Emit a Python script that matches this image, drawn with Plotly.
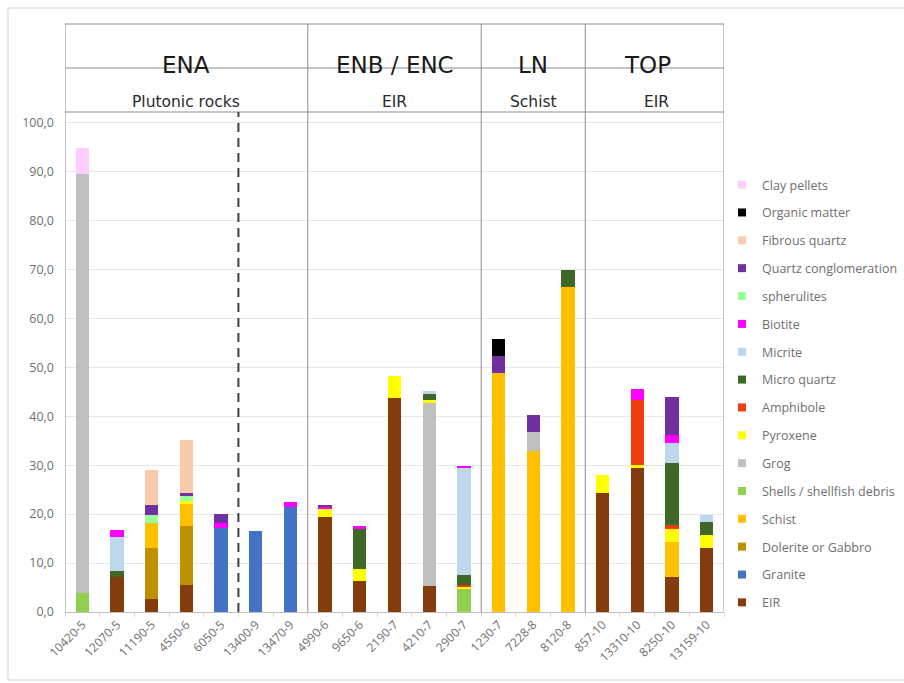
import plotly.graph_objects as go

# Samples grouped by site (ENA | ENB/ENC | LN | TOP)
samples = ["10420-5", "12070-5", "11190-5", "4550-6", "6050-5", "13400-9", "13470-9",
           "4990-6", "9650-6", "2190-7", "4210-7", "2900-7",
           "1230-7", "7228-8", "8120-8",
           "857-10", "13310-10", "8250-10", "13159-10"]

# Inclusion percentages per sample (stacked bottom -> top)
eir          = [0, 7.2, 2.6, 5.5, 0, 0, 0, 19.5, 6.3, 43.7, 5.3, 0, 0, 0, 0, 24.4, 29.4, 7.2, 13.1]
granite      = [0, 0, 0, 0, 17.2, 16.5, 21.4, 0, 0, 0, 0, 0, 0, 0, 0, 0, 0, 0, 0]
dolerite     = [0, 0, 10.4, 12.1, 0, 0, 0, 0, 0, 0, 0, 0, 0, 0, 0, 0, 0, 0, 0]
schist       = [0, 0, 5.1, 4.6, 0, 0, 0, 0, 0, 0, 0, 0, 48.9, 32.8, 66.3, 0, 0, 7.1, 0]
shells       = [3.9, 0, 0, 0, 0, 0, 0, 0, 0, 0, 0, 4.8, 0, 0, 0, 0, 0, 0, 0]
grog         = [85.5, 0, 0, 0, 0, 0, 0, 0, 0, 0, 37.4, 0, 0, 3.9, 0, 0, 0, 0, 0]
pyroxene     = [0, 0, 0, 0.4, 0, 0, 0, 1.5, 2.4, 4.6, 0.6, 0.3, 0, 0, 0, 3.6, 0.6, 2.6, 2.7]
amphibole    = [0, 0, 0, 0, 0, 0, 0, 0, 0, 0, 0, 0.5, 0, 0, 0, 0, 13.3, 0.8, 0]
micro_quartz = [0, 1.1, 0, 0, 0, 0, 0, 0, 8.2, 0, 1.3, 2.0, 0, 0, 3.5, 0, 0, 12.8, 2.6]
micrite      = [0, 7.1, 0, 0, 0, 0, 0, 0, 0, 0, 0.6, 21.9, 0, 0, 0, 0, 0, 4.0, 1.4]
biotite      = [0, 1.3, 0, 0, 1.0, 0, 1.1, 0.5, 0.7, 0, 0, 0.4, 0, 0, 0, 0, 2.2, 1.7, 0]
spherulites  = [0, 0, 1.8, 1.0, 0, 0, 0, 0, 0, 0, 0, 0, 0, 0, 0, 0, 0, 0, 0]
quartz_cong  = [0, 0, 1.9, 0.8, 1.9, 0, 0, 0.3, 0, 0, 0, 0, 3.5, 3.6, 0, 0, 0, 7.8, 0]
fibrous      = [0, 0, 7.2, 10.8, 0, 0, 0, 0, 0, 0, 0, 0, 0, 0, 0, 0, 0, 0, 0]
organic      = [0, 0, 0, 0, 0, 0, 0, 0, 0, 0, 0, 0, 3.4, 0, 0, 0, 0, 0, 0]
clay_pellets = [5.3, 0, 0, 0, 0, 0, 0, 0, 0, 0, 0, 0, 0, 0, 0, 0, 0, 0, 0]

series = [
    ("EIR", eir, "#843c0c"),
    ("Granite", granite, "#4472c4"),
    ("Dolerite or Gabbro", dolerite, "#bf9000"),
    ("Schist", schist, "#ffc000"),
    ("Shells / shellfish debris", shells, "#92d050"),
    ("Grog", grog, "#bfbfbf"),
    ("Pyroxene", pyroxene, "#ffff00"),
    ("Amphibole", amphibole, "#ee3d10"),
    ("Micro quartz", micro_quartz, "#3d6826"),
    ("Micrite", micrite, "#bdd7ee"),
    ("Biotite", biotite, "#ff00ff"),
    ("spherulites", spherulites, "#99ff99"),
    ("Quartz conglomeration", quartz_cong, "#7030a0"),
    ("Fibrous quartz", fibrous, "#f8cbad"),
    ("Organic matter", organic, "#000000"),
    ("Clay pellets", clay_pellets, "#ffccff"),
]

# Site header table: (label, sub label, first index, last index, label centre, sub centre)
sites = [("ENA", "Plutonic rocks", 0, 6, 3.0, 3.0),
         ("ENB / ENC", "EIR", 7, 11, 9.0, 9.0),
         ("LN", "Schist", 12, 14, 13.0, 13.0),
         ("TOP", "EIR", 15, 18, 16.3, 16.55)]

W, H = 904, 683
L, R, T, B = 65, 180, 112, 71
plot_w, plot_h = W - L - R, H - T - B


def px_x(p):
    return (p - L) / plot_w


def px_y(p):
    return (H - B - p) / plot_h


TXT = "#6f6f6f"
FONT = "Open Sans"

fig = go.Figure()
n = len(series)
for i, (name, vals, col) in enumerate(series):
    fig.add_trace(go.Bar(x=samples, y=vals, name=name, marker=dict(color=col, line=dict(width=0)),
                         showlegend=False, legendgroup=name, hoverinfo="x+y+name"))
    # compact square legend key, listed top-down in reverse stacking order
    fig.add_trace(go.Scatter(x=[None], y=[None], mode="markers", name=name, legendgroup=name,
                             legendrank=n - i, marker=dict(symbol="square", size=8, color=col),
                             showlegend=True))

table_top = px_y(24)
row_div = px_y(68)
line_col = "#8c8c8c"

shapes = []
# horizontal table rules
for yv in (table_top, row_div, 1.0):
    shapes.append(dict(type="line", xref="paper", yref="paper", x0=0, x1=1, y0=yv, y1=yv,
                       line=dict(color=line_col, width=1)))
# outer borders and site separators
for xv in [-0.5] + [s[3] + 0.5 for s in sites]:
    shapes.append(dict(type="line", xref="x", yref="paper", x0=xv, x1=xv, y0=0, y1=table_top,
                       line=dict(color=line_col, width=1)))
# dashed split inside ENA
shapes.append(dict(type="line", xref="x", yref="paper", x0=4.5, x1=4.5, y0=0, y1=1,
                   line=dict(color="#404040", width=2, dash="9px,6px")))
# light frame around the figure
shapes.append(dict(type="rect", xref="paper", yref="paper", x0=px_x(8), x1=px_x(906),
                   y0=px_y(680), y1=px_y(8), line=dict(color="#d0d0d0", width=1)))

annotations = []
for label, sub, i0, i1, xc, xs in sites:
    annotations.append(dict(x=xc, y=px_y(50), xref="x", yref="paper", text=label, showarrow=False,
                            font=dict(family="DejaVu Sans", size=23, color="#1a1a1a")))
    annotations.append(dict(x=xs, y=px_y(91), xref="x", yref="paper", text=sub, showarrow=False,
                            font=dict(family="DejaVu Sans", size=15.5, color="#2a2a2a")))

fig.update_layout(
    width=W, height=H,
    margin=dict(l=L, r=R, t=T, b=B, pad=0, autoexpand=False),
    barmode="stack", bargap=0.615,
    plot_bgcolor="white", paper_bgcolor="white",
    separators=", ",
    font=dict(family=FONT, color=TXT, size=12),
    shapes=shapes, annotations=annotations,
    legend=dict(x=px_x(722), xanchor="left", y=px_y(170), yanchor="top",
                bgcolor="rgba(0,0,0,0)",
                traceorder="grouped", tracegroupgap=8.6,
                font=dict(family=FONT, size=12.5, color=TXT), itemwidth=30),
    xaxis=dict(type="category", tickangle=-45, showline=True, linecolor="#bfbfbf",
               ticks="outside", tickson="boundaries", ticklen=4, tickcolor="#d9d9d9",
               tickfont=dict(family=FONT, size=12, color=TXT), range=[-0.5, 18.5]),
    yaxis=dict(range=[0, 102.15], dtick=10, tickformat=".1f", showgrid=True, gridcolor="#e6e6e6",
               zeroline=False, showline=False, ticklabelstandoff=10,
               tickfont=dict(family=FONT, size=12.5, color=TXT)),
)

fig.write_html("out.html")
